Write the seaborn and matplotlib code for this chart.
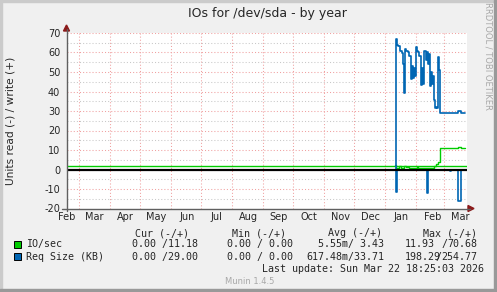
import numpy as np
import pandas as pd
import matplotlib
matplotlib.use("Agg")
import matplotlib.pyplot as plt
import matplotlib.dates as mdates
from matplotlib.patches import Rectangle, Polygon
import seaborn as sns

# ---------------- data ----------------
start_day = "2026-01-11"           # first sample
# Req Size (KB), write (+)
req_write = [0, 67, 64, 63.5, 63.5, 61, 61, 59.5, 54, 39,
             62, 61, 61, 60, 58, 58, 46.5, 53, 47, 52,
             48, 63, 61, 60, 58, 58, 43.5, 52, 44, 61,
             61, 56, 60, 54, 59, 43, 50, 44, 48, 35.5,
             31.5, 32, 31.5, 57.8, 51, 29, 29, 29, 29, 29,
             29, 29, 29, 29, 29, 29, 29, 29, 29, 29,
             29, 29, 29, 29.8, 29.8, 29.8, 29, 29, 29, 29, 29]
# Req Size (KB), read (-)
req_read = [0, -11.5, 0, 0, 0, 0, 0, 0, 0, 0,
            0, 0, 0, 0, 0, 0, 0, 0, 0, 0,
            0, 0, 0, 0, 0, 0, 0, 0, 0, 0,
            0, 0, -12.3, 0, 0, 0, 0, 0, 0, 0,
            0, 0, 0, 0, 0, 0, 0, 0, 0, 0,
            0, 0, 0, 0, 0, -0.7, 0, 0, 0, 0,
            0, 0, 0, -16, -16, -16, 0, 0, 0, 0, 0]
# IO/sec, write (+)
io_write = [2.1, 1.0, 1.0, 1.0, 1.6, 1.6, 1.0, 1.0, 1.0, 1.6,
            1.6, 1.2, 1.2, 1.2, 1.0, 1.0, 1.0, 1.0, 1.0, 1.0,
            1.0, 1.0, 1.2, 1.0, 1.0, 1.0, 1.0, 1.0, 1.0, 1.0,
            1.0, 1.0, 1.0, 1.0, 1.0, 1.0, 1.0, 1.0, 1.0, 1.6,
            1.6, 2.7, 2.7, 3.9, 3.9, 11.1, 11.1, 11.1, 11.1, 11.1,
            11.1, 11.1, 11.1, 11.1, 11.1, 11.1, 11.1, 11.1, 11.1, 11.1,
            11.1, 11.1, 11.1, 11.5, 11.5, 11.5, 11.1, 11.1, 11.1, 11.1, 11.1]
io_rule = 2.0                       # full-width green rule

x_start, x_end = "2025-02-17", "2026-03-23"
month_starts = pd.date_range("2025-02-01", "2026-03-01", freq="MS")
month_names = ["Feb", "Mar", "Apr", "May", "Jun", "Jul", "Aug", "Sep",
               "Oct", "Nov", "Dec", "Jan", "Feb", "Mar"]
y_ticks = [-20, -10, 0, 10, 20, 30, 40, 50, 60, 70]
y_minor = [-15, -5, 5, 15, 25, 35, 45, 55, 65]

title = "IOs for /dev/sda - by year"
ylabel = "Units read (-) / write (+)"
legend_names = ["IO/sec", "Req Size (KB)"]
cur = ["0.00 /11.18", "0.00 /29.00"]
mins = ["0.00 / 0.00", "0.00 / 0.00"]
avgs = ["5.55m/ 3.43", "617.48m/33.71"]
max_neg = ["11.93", "198.29"]
max_pos = ["70.68", "254.77"]
last_update = "Last update: Sun Mar 22 18:25:03 2026"

GREEN, BLUE = "#00CC00", "#0066B3"

# ---------------- figure ----------------
W, H = 497, 292
sns.set_style("white")
plt.rcParams["font.family"] = ["DejaVu Sans"]
fig = plt.figure(figsize=(W / 100, H / 100), dpi=100, facecolor="#F0F0F0")

def F(x, y):
    return (x / W, 1 - y / H)

L, R, T, B = 66.5, 466.5, 33.0, 208.5
ax = fig.add_axes([L / W, 1 - B / H, (R - L) / W, (B - T) / H])
ax.set_facecolor("white")

dates = pd.date_range(start_day, periods=len(req_write), freq="D")
df = pd.DataFrame({"date": dates, "req_w": req_write, "req_r": req_read,
                   "io_w": io_write})

x0, x1 = pd.Timestamp(x_start), pd.Timestamp(x_end)
ax.set_xlim(x0, x1)
ax.set_ylim(-20, 70)

# grid
dot = (0, (1, 2))
for m in month_starts:
    if x0 < m < x1:
        ax.axvline(m, color="#F0A0A0", lw=0.75, ls=dot, zorder=0)
for v in y_ticks[1:]:
    ax.axhline(v, color="#F0A0A0", lw=0.75, ls=dot, zorder=0)
for v in y_minor:
    ax.axhline(v, color="#C8C8C8", lw=0.75, ls=dot, zorder=0)

ax.axhline(io_rule, color=GREEN, lw=1.0, zorder=2)
sns.lineplot(data=df, x="date", y="io_w", color=GREEN, lw=1.0,
             drawstyle="steps-post", ax=ax, legend=False, zorder=3)
sns.lineplot(data=df, x="date", y="req_w", color=BLUE, lw=1.2,
             drawstyle="steps-post", ax=ax, legend=False, zorder=3)
sns.lineplot(data=df, x="date", y="req_r", color=BLUE, lw=1.2,
             drawstyle="steps-post", ax=ax, legend=False, zorder=3)
ax.axhline(0, color="black", lw=1.6, zorder=4)

# ticks
ax.set_yticks(y_ticks)
ax.set_yticklabels([str(v) for v in y_ticks])
ax.set_xticks(list(month_starts[(month_starts > x0) & (month_starts < x1)]))
ax.set_xticklabels([])
lab_pos = [m + pd.Timedelta(days=16) for m in month_starts]
ax.set_xticks(lab_pos, minor=True)
ax.set_xticklabels(month_names, minor=True)
ax.tick_params(axis="y", length=0, pad=4.5, labelsize=7)
ax.tick_params(axis="x", which="major", length=2.2, color="#606060", direction="out")
ax.tick_params(axis="x", which="minor", length=0, pad=2.5, labelsize=7)
ax.set_xlabel("")
ax.set_ylabel("")
for s in ax.spines.values():
    s.set_visible(False)

# axis lines and arrows
axc = "#606060"
fig.add_artist(plt.Line2D([F(L, 0)[0]] * 2, [F(0, 211)[1], F(0, 29)[1]], color=axc, lw=1.0))
fig.add_artist(plt.Line2D([F(62, 0)[0], F(470, 0)[0]], [F(0, B)[1]] * 2, color=axc, lw=1.0))
arrow_c = "#8B1A1A"
fig.add_artist(Polygon([F(L, 25), F(L - 3, 31), F(L + 3, 31)], closed=True,
                       color=arrow_c, transform=fig.transFigure))
fig.add_artist(Polygon([F(474, B), F(468, B - 3), F(468, B + 3)], closed=True,
                       color=arrow_c, transform=fig.transFigure))

# titles
fig.text(*F(267, 14), title, ha="center", va="center", fontsize=9)
fig.text(*F(11, 121), ylabel, ha="center", va="center", rotation=90, fontsize=7.7)
fig.text(*F(488, 56), "RRDTOOL / TOBI OETIKER", ha="center", va="center",
         rotation=270, fontsize=6, color="#A8A8A8")

# legend table
mono = dict(family="DejaVu Sans Mono", fontsize=7.2, va="center")
fig.text(*F(135, 233), "Cur (-/+)", **mono)
fig.text(*F(232, 233), "Min (-/+)", **mono)
fig.text(*F(327.5, 233), "Avg (-/+)", **mono)
fig.text(*F(423, 233), "Max (-/+)", **mono)
rows_y = [244.3, 256.7]
for i, (name, col) in enumerate(zip(legend_names, [GREEN, BLUE])):
    y = rows_y[i]
    fig.add_artist(Rectangle(F(13.5, y + 3.5), 7 / W, 7 / H, facecolor=col,
                             edgecolor="black", lw=0.7, transform=fig.transFigure))
    fig.text(*F(26.5, y), name, **mono)
    fig.text(*F(131.5, y), cur[i], **mono)
    fig.text(*F(227, y), mins[i], **mono)
    fig.text(*F(384, y), avgs[i], ha="right", **mono)
    fig.text(*F(404.5, y), max_neg[i], **mono)
    fig.text(*F(477.5, y), max_pos[i], ha="right", **mono)
    fig.text(*F(477.5 - 6.0 * len(max_pos[i]) - 6.0, y), "/", **mono)
fig.text(*F(261.5, 269), last_update, **mono)
fig.text(*F(225, 281.5), "Munin 1.4.5", fontsize=6, color="#A8A8A8", va="center")

# 3D frame
fig.add_artist(Rectangle((0, 1 - 2 / H), 1, 2 / H, color="#CBCBCB", transform=fig.transFigure))
fig.add_artist(Rectangle((0, 0), 2 / W, 1, color="#CBCBCB", transform=fig.transFigure))
fig.add_artist(Rectangle((0, 0), 1, 3 / H, color="#999999", transform=fig.transFigure))
fig.add_artist(Rectangle((1 - 3 / W, 0), 3 / W, 1, color="#999999", transform=fig.transFigure))

fig.savefig("out.png", dpi=100, facecolor=fig.get_facecolor())
